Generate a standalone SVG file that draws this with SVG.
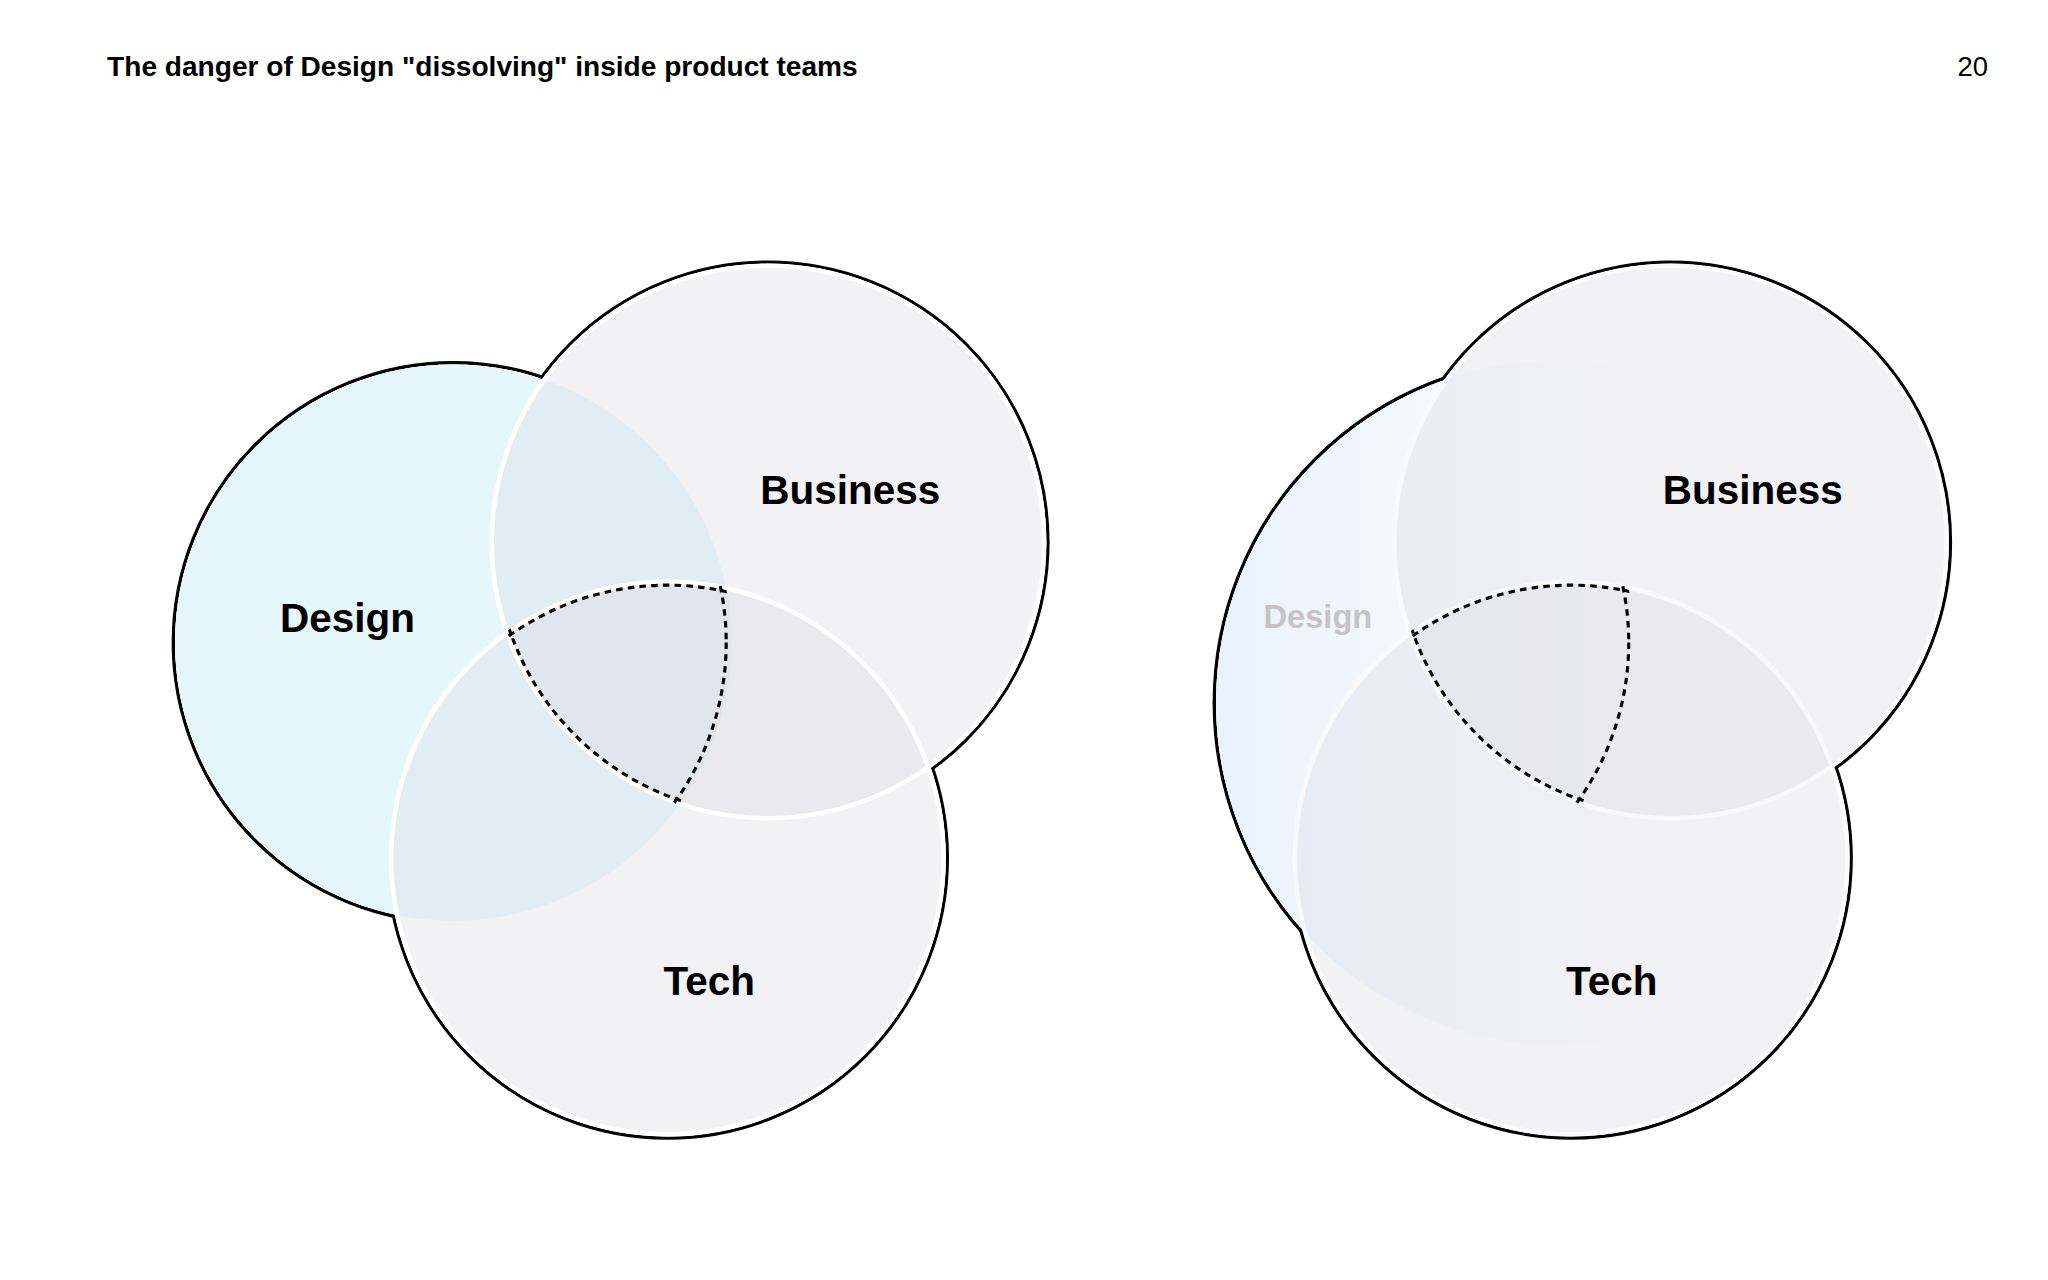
<svg xmlns="http://www.w3.org/2000/svg" width="2048" height="1280" viewBox="0 0 2048 1280">
<style>
.blk{fill:none;stroke:#000;stroke-width:2.6}
.wf{fill:#fff;stroke:none}
.wr{fill:none;stroke:#fff;stroke-width:3.5}
.grey{fill:#dcdce4;fill-opacity:0.36}
.dash{fill:none;stroke:#000;stroke-width:2.4;stroke-dasharray:5 4}
.lbl{font-family:"Liberation Sans",Arial,sans-serif;font-weight:bold;font-size:31px;fill:#000}
</style>
<defs>
<linearGradient id="dg" gradientUnits="userSpaceOnUse" x1="931" y1="0" x2="1250" y2="0">
<stop offset="0" stop-color="#e2eefc" stop-opacity="0.75"/>
<stop offset="1" stop-color="#e2eefc" stop-opacity="0"/>
</linearGradient>
<clipPath id="cLB"><circle cx="588" cy="415" r="213"/></clipPath>
<clipPath id="cLT"><circle cx="511" cy="657" r="213"/></clipPath>
<clipPath id="cLD"><circle cx="347" cy="492" r="213"/></clipPath>
<clipPath id="cRB"><circle cx="1279" cy="415" r="213"/></clipPath>
<clipPath id="cRT"><circle cx="1203" cy="657" r="213"/></clipPath>
<clipPath id="cRD"><circle cx="1038" cy="492" r="213"/></clipPath>
<clipPath id="cLeft"><rect x="900" y="250" width="215" height="500"/></clipPath>
</defs>
<rect width="2048" height="1280" fill="#fff"/>
<g transform="scale(1.30612)">
<text x="82" y="58" font-family="Liberation Sans,Arial,sans-serif" font-weight="bold" font-size="21.5" fill="#000">The danger of Design "dissolving" inside product teams</text>
<text x="1522" y="58" text-anchor="end" font-family="Liberation Sans,Arial,sans-serif" font-size="21" fill="#000">20</text>

<g id="left">
<g id="outlines-left">
<circle class="blk" cx="347" cy="492" r="214.3"/>
<circle class="blk" cx="588" cy="415" r="214.3"/>
<circle class="blk" cx="511" cy="657" r="214.3"/>
<circle class="wf" cx="347" cy="492" r="213"/>
<circle class="wf" cx="588" cy="415" r="213"/>
<circle class="wf" cx="511" cy="657" r="213"/>
</g>
<g id="l-design"><circle cx="347" cy="492" r="213" fill="#e6f7fc"/></g>
<g id="l-business"><circle class="grey" cx="588" cy="415" r="213"/></g>
<g id="l-tech"><circle class="grey" cx="511" cy="657" r="213"/></g>
<circle class="wr" cx="588" cy="415" r="211.5"/>
<circle class="wr" cx="511" cy="657" r="211.5"/>
<g id="l-core">
<g clip-path="url(#cLB)"><g clip-path="url(#cLT)"><circle class="dash" cx="347" cy="492" r="209"/></g></g>
<g clip-path="url(#cLD)"><g clip-path="url(#cLT)"><circle class="dash" cx="588" cy="415" r="209"/></g></g>
<g clip-path="url(#cLD)"><g clip-path="url(#cLB)"><circle class="dash" cx="511" cy="657" r="209"/></g></g>
</g>
<text class="lbl" x="266" y="484" text-anchor="middle">Design</text>
<text class="lbl" x="651" y="386" text-anchor="middle">Business</text>
<text class="lbl" x="543" y="762" text-anchor="middle">Tech</text>
</g>

<g id="right">
<g id="outlines-right">
<circle class="blk" cx="1193" cy="538" r="263.3" clip-path="url(#cLeft)"/>
<circle class="blk" cx="1279" cy="415" r="214.3"/>
<circle class="blk" cx="1203" cy="657" r="214.3"/>
<circle class="wf" cx="1193" cy="538" r="262" clip-path="url(#cLeft)"/>
<circle class="wf" cx="1279" cy="415" r="213"/>
<circle class="wf" cx="1203" cy="657" r="213"/>
</g>
<g id="r-design"><circle cx="1193" cy="538" r="262" fill="url(#dg)"/></g>
<g id="r-business"><circle class="grey" cx="1279" cy="415" r="213"/></g>
<g id="r-tech"><circle class="grey" cx="1203" cy="657" r="213"/></g>
<circle class="wr" cx="1279" cy="415" r="211.5" stroke-opacity="0.7"/>
<circle class="wr" cx="1203" cy="657" r="211.5" stroke-opacity="0.7"/>
<g id="r-core">
<g clip-path="url(#cRB)"><g clip-path="url(#cRT)"><circle class="dash" cx="1038" cy="492" r="209"/></g></g>
<g clip-path="url(#cRD)"><g clip-path="url(#cRT)"><circle class="dash" cx="1279" cy="415" r="209"/></g></g>
<g clip-path="url(#cRD)"><g clip-path="url(#cRB)"><circle class="dash" cx="1203" cy="657" r="209"/></g></g>
</g>
<text x="1009" y="481" text-anchor="middle" font-family="Liberation Sans,Arial,sans-serif" font-weight="bold" font-size="25" fill="#c4c4c4">Design</text>
<text class="lbl" x="1342" y="386" text-anchor="middle">Business</text>
<text class="lbl" x="1234" y="762" text-anchor="middle">Tech</text>
</g>
</g>
</svg>
